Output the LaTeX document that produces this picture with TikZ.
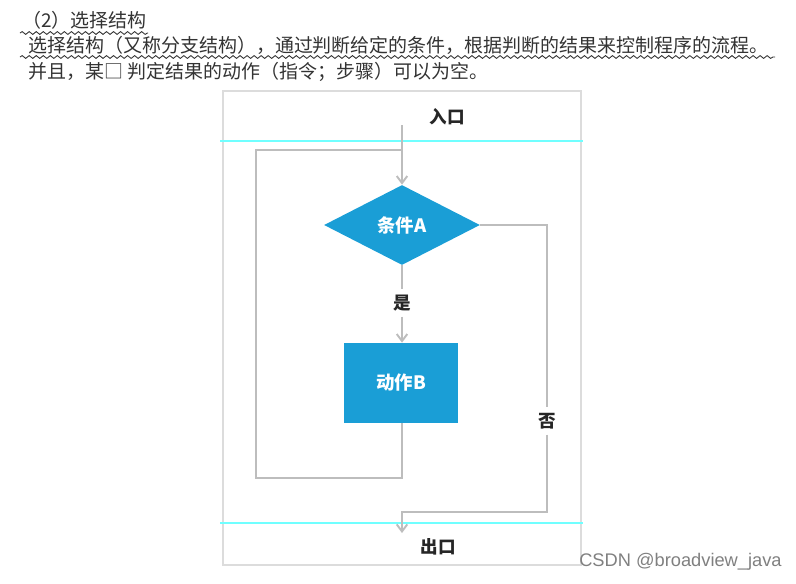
\documentclass[tikz,border=0pt]{standalone}
\usepackage{fontspec}
\setmainfont{Noto Sans CJK SC}
\setsansfont{Liberation Sans}
\usepackage{xcolor}
\usetikzlibrary{arrows.meta,positioning,shapes.geometric,decorations.pathmorphing}

\definecolor{flowblue}{HTML}{1A9ED6}
\definecolor{flowline}{HTML}{BDBDBD}
\definecolor{framegray}{HTML}{DCDCDC}
\definecolor{guidecyan}{HTML}{70FFFF}
\definecolor{inkgray}{HTML}{333333}

\begin{document}
\begin{tikzpicture}[
  x=0.02cm, y=-0.02cm,
  headtxt/.style={font=\fontsize{10.8}{12}\selectfont, text=inkgray, anchor=west, inner sep=0pt},
  wavy/.style={draw=inkgray, line width=0.5pt, decorate, decoration={snake, segment length=4pt, amplitude=0.8pt}},
  framebox/.style={draw=framegray, line width=0.8pt},
  guide/.style={draw=guidecyan, line width=0.8pt},
  flow/.style={draw=flowline, line width=1.1pt},
  tip/.style={-{Straight Barb[length=4pt, width=6pt]}},
  cond/.style={diamond, fill=flowblue, aspect=1.95, minimum width=3.12cm, minimum height=1.6cm, inner sep=0pt, text=white, font=\fontsize{10.5}{12}\selectfont\bfseries},
  act/.style={rectangle, fill=flowblue, minimum width=2.3cm, minimum height=1.6cm, inner sep=0pt, text=white, font=\fontsize{10.5}{12}\selectfont\bfseries},
  lbl/.style={font=\fontsize{10}{12}\selectfont\bfseries, text=black!85, inner sep=3pt}
]

\useasboundingbox (0,0) rectangle (796,583);

% text above the chart
\node[headtxt] (title) at (22,20) {（2）选择结构};
\node[headtxt] (lineA) at (28,45) {选择结构（又称分支结构），通过判断给定的条件，根据判断的结果来控制程序的流程。};
\node[headtxt] (lineB) at (28,72) {并且，某□ 判定结果的动作（指令；步骤）可以为空。};
\draw[wavy] (20,33) -- (148,33);
\draw[wavy] (20,57) -- (775,57);

% frame and guide lines
\draw[framebox] (223,91) rectangle (581,565);
\draw[guide] (220,141) -- (583,141);
\draw[guide] (220,523) -- (583,523);

\node[lbl] (entry) at (447,117) {入口};
\node[cond] (cond) at (402,225) {条件A};
\node[lbl] (yes) at (402,303) {是};
\node[act] (act) at (401,383) {动作B};
\node[lbl] (no) at (547,421) {否};
\node[lbl] (exit) at (438,547) {出口};

\coordinate (in) at (402,125);
\coordinate (loopTL) at (256,150);
\coordinate (loopBL) at (256,478);
\coordinate (loopBR) at (402,478);
\coordinate (noBR) at (547,512);
\coordinate (out) at (402,533);

\draw[flow, tip] (in) -- (cond.north);
\draw[flow] (act.south -| loopBR) -- (loopBR) -- (loopBL) -- (loopTL) -- (in |- loopTL);
\draw[flow] (cond.south) -- (yes.north);
\draw[flow, tip] (yes.south) -- (yes.south |- act.north);
\draw[flow] (cond.east) -| (no.north);
\draw[flow, tip] (no.south) -- (noBR) -- (out |- noBR) -- (out);

\node[anchor=east, inner sep=0pt, font=\sffamily\fontsize{10.4}{12}\selectfont, text=black!50] (mark) at (782,562) {CSDN @broadview\_java};

\end{tikzpicture}
\end{document}
